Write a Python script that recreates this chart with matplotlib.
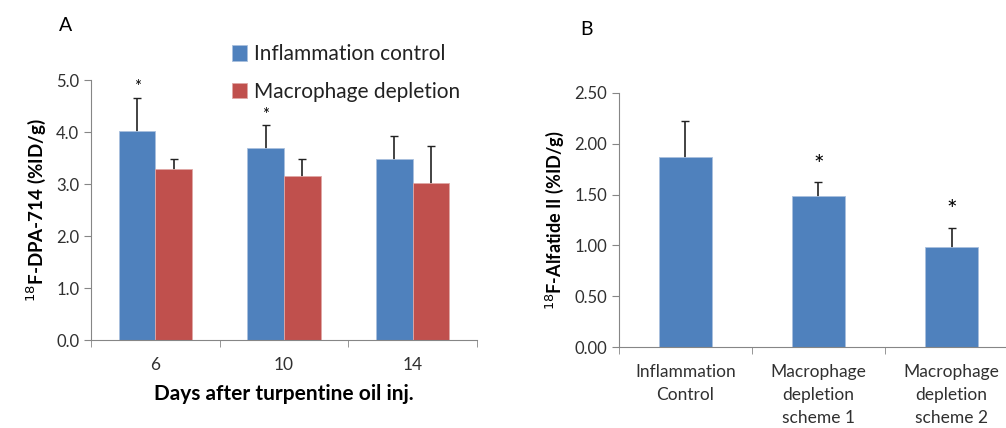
import matplotlib
matplotlib.use('Agg')
import matplotlib.pyplot as plt
import numpy as np

# panel A data
days = ['6', '10', '14']
control = [4.02, 3.70, 3.49]
control_err = [0.64, 0.44, 0.44]
depletion = [3.29, 3.15, 3.02]
depletion_err = [0.19, 0.33, 0.71]
star_a = ['*', '*', '']

# panel B data
groups = ['Inflammation\nControl', 'Macrophage\ndepletion\nscheme 1', 'Macrophage\ndepletion\nscheme 2']
alfatide = [1.87, 1.49, 0.98]
alfatide_err = [0.35, 0.13, 0.19]
star_b = ['', '*', '*']

BLUE = '#4F81BD'
RED = '#C0504D'
GREY = '#868686'

plt.rcParams['font.family'] = ['Lato', 'DejaVu Sans']


def style_axis(ax, n):
  for s in ['top', 'right']:
    ax.spines[s].set_visible(False)
  for s in ['left', 'bottom']:
    ax.spines[s].set_color(GREY)
  ax.set_xlim(-0.5, n - 0.5)
  ax.set_xticks(np.arange(n))
  ax.tick_params(axis='x', which='major', length=0, pad=12, labelsize=12.5, colors='#303030')
  ax.set_xticks(np.arange(n + 1) - 0.5, minor=True)
  ax.tick_params(axis='x', which='minor', length=5, color=GREY)
  ax.tick_params(axis='y', length=5, color=GREY, labelsize=12, labelcolor='#303030')


def err_bars(ax, xs, ys, errs):
  # symmetric bars drawn behind the columns, so only the upper half shows
  ax.errorbar(xs, ys, yerr=errs, fmt='none', ecolor='#222222',
              elinewidth=1.2, capsize=3, zorder=1)


fig = plt.figure(figsize=(10.06, 4.28), dpi=100)

# ---- panel A
ax1 = fig.add_axes([0.0905, 0.2056, 0.3835, 0.607])
x = np.arange(len(days))
w = 0.285
ax1.bar(x - w / 2, control, w, color=BLUE, edgecolor='#a9c0de', linewidth=0.6,
        label='Inflammation control', zorder=2)
ax1.bar(x + w / 2, depletion, w, color=RED, edgecolor='#e0a8a6', linewidth=0.6,
        label='Macrophage depletion', zorder=2)
err_bars(ax1, x - w / 2, control, control_err)
err_bars(ax1, x + w / 2, depletion, depletion_err)
for i, s in enumerate(star_a):
  if s:
    ax1.text(x[i] - w / 2, control[i] + control_err[i] + 0.2, s, ha='center',
             va='center', fontsize=12, zorder=5)
style_axis(ax1, len(days))
ax1.set_xticklabels(days)
ax1.set_ylim(0, 5.0)
ax1.set_yticks(np.arange(0, 5.01, 1.0))
ax1.set_yticklabels(['{0:.1f}'.format(v) for v in np.arange(0, 5.01, 1.0)])
ax1.set_ylabel('$^{18}$F-DPA-714 (%ID/g)', fontsize=13.5, fontweight='bold', labelpad=6)
ax1.set_xlabel('Days after turpentine oil inj.', fontsize=15, fontweight='bold', labelpad=8)
ax1.legend(loc='upper left', bbox_to_anchor=(0.22, 0.921), bbox_transform=fig.transFigure,
           frameon=False, fontsize=15, handlelength=0.75, handleheight=0.75,
           handletextpad=0.3, labelspacing=0.85, borderpad=0, labelcolor='#222222')
fig.text(0.065, 0.94, 'A', fontsize=14, ha='center', va='center')

# ---- panel B
ax2 = fig.add_axes([0.615, 0.189, 0.397, 0.594])
xb = np.arange(len(groups))
ax2.bar(xb, alfatide, 0.4, color=BLUE, edgecolor='#a9c0de', linewidth=0.6, zorder=2)
err_bars(ax2, xb, alfatide, alfatide_err)
for i, s in enumerate(star_b):
  if s:
    ax2.text(xb[i], alfatide[i] + alfatide_err[i] + 0.17, s, ha='center',
             va='center', fontsize=18)
style_axis(ax2, len(groups))
ax2.set_xticklabels(groups, linespacing=1.55, va='top')
ax2.set_ylim(0, 2.5)
ax2.set_yticks(np.arange(0, 2.51, 0.5))
ax2.set_yticklabels(['{0:.2f}'.format(v) for v in np.arange(0, 2.51, 0.5)])
ax2.set_ylabel('$^{18}$F-Alfatide II (%ID/g)', fontsize=13, fontweight='bold', labelpad=6)
fig.text(0.583, 0.93, 'B', fontsize=14, ha='center', va='center')

fig.savefig('out.png', dpi=100)
